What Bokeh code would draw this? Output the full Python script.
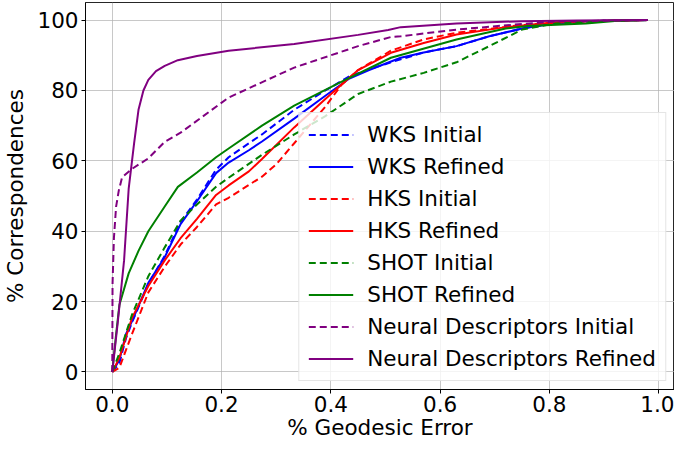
from bokeh.plotting import figure
from bokeh.models import Range1d, FixedTicker, PrintfTickFormatter, Legend, LegendItem
from bokeh.embed import file_html
from bokeh.resources import INLINE

# ---- data ----
wks_init_x = [0, 0.013, 0.025, 0.036, 0.066, 0.096, 0.125, 0.155, 0.19, 0.213, 0.25, 0.274, 0.333, 0.39, 0.434, 0.47, 0.51, 0.57, 0.63, 0.69, 0.75, 0.8, 0.85, 0.9, 0.98]
wks_init_y = [0, 2.5, 9.5, 14, 25, 33, 42.6, 49, 57.5, 61, 65, 67.5, 74.5, 80, 84, 86, 88, 90.8, 92.6, 95.4, 97.6, 98.8, 99.5, 99.8, 100]

wks_ref_x = [0, 0.013, 0.025, 0.036, 0.066, 0.096, 0.125, 0.155, 0.19, 0.213, 0.25, 0.274, 0.333, 0.39, 0.434, 0.47, 0.528, 0.57, 0.63, 0.69, 0.75, 0.8, 0.85, 0.9, 0.98]
wks_ref_y = [0, 3.4, 10.7, 14.4, 25.3, 32.6, 42, 48.5, 56.5, 59.5, 63, 65.5, 72, 78.5, 83.4, 85.8, 89.3, 90.8, 92.6, 95.4, 97.6, 98.8, 99.5, 99.8, 100]

hks_init_x = [0, 0.013, 0.025, 0.036, 0.066, 0.096, 0.125, 0.155, 0.19, 0.213, 0.274, 0.3, 0.333, 0.39, 0.42, 0.45, 0.51, 0.57, 0.63, 0.75, 0.85, 0.98]
hks_init_y = [0, 1.2, 6.2, 10.7, 22.6, 29.9, 36.2, 41.2, 47.6, 49.5, 55.5, 59, 65, 75.4, 81.7, 85.8, 91.3, 94.5, 96.4, 98.6, 99.6, 100]

hks_ref_x = [0, 0.013, 0.036, 0.066, 0.096, 0.125, 0.155, 0.19, 0.213, 0.25, 0.274, 0.333, 0.39, 0.45, 0.51, 0.57, 0.63, 0.72, 0.81, 0.9, 0.98]
hks_ref_y = [0, 4, 15.3, 24.4, 31.7, 38, 43.5, 50.3, 53, 57, 60.5, 69.5, 77.6, 85.8, 90.7, 93.5, 95.9, 98, 99.4, 99.8, 100]

shot_init_x = [0, 0.013, 0.036, 0.066, 0.096, 0.125, 0.155, 0.19, 0.213, 0.274, 0.333, 0.39, 0.45, 0.51, 0.57, 0.63, 0.69, 0.75, 0.81, 0.9, 0.98]
shot_init_y = [0, 5.3, 16.2, 27.2, 35.4, 43, 47.6, 52.6, 55.2, 61.7, 67.5, 72.7, 79, 82.5, 85, 88, 92.6, 97.3, 99, 99.8, 100]

shot_ref_x = [0, 0.007, 0.013, 0.03, 0.048, 0.066, 0.096, 0.12, 0.155, 0.19, 0.213, 0.274, 0.333, 0.42, 0.51, 0.63, 0.72, 0.76, 0.867, 0.925, 0.98]
shot_ref_y = [0, 10.7, 19, 28, 34.4, 40, 47, 52.6, 56.7, 61, 63.5, 70, 75.7, 82.5, 89.3, 94.5, 97.6, 98.3, 99, 99.8, 100]

neural_init_x = [0, 0.0005, 0.003, 0.007, 0.012, 0.018, 0.036, 0.066, 0.096, 0.125, 0.213, 0.333, 0.45, 0.51, 0.528, 0.63, 0.75, 0.81, 0.98]
neural_init_y = [0, 25, 38, 47, 51.6, 55.3, 57.7, 60.7, 65.4, 68, 78, 86.5, 92.6, 95.2, 95.4, 97.3, 98.9, 99.6, 100]

neural_ref_x = [0, 0.01, 0.0216, 0.03, 0.04, 0.048, 0.057, 0.066, 0.08, 0.096, 0.12, 0.155, 0.213, 0.333, 0.45, 0.505, 0.528, 0.63, 0.75, 0.85, 0.98]
neural_ref_y = [0, 14, 31.7, 52, 65, 74.5, 80, 83, 85.5, 87, 88.6, 89.8, 91.3, 93.2, 95.8, 97.2, 98, 99, 99.7, 99.9, 100]

series = [
    ("WKS Initial", wks_init_x, wks_init_y, "blue", "dashed"),
    ("WKS Refined", wks_ref_x, wks_ref_y, "blue", "solid"),
    ("HKS Initial", hks_init_x, hks_init_y, "red", "dashed"),
    ("HKS Refined", hks_ref_x, hks_ref_y, "red", "solid"),
    ("SHOT Initial", shot_init_x, shot_init_y, "green", "dashed"),
    ("SHOT Refined", shot_ref_x, shot_ref_y, "green", "solid"),
    ("Neural Descriptors Initial", neural_init_x, neural_init_y, "purple", "dashed"),
    ("Neural Descriptors Refined", neural_ref_x, neural_ref_y, "purple", "solid"),
]

x_ticks = [0.0, 0.2, 0.4, 0.6, 0.8, 1.0]
y_ticks = [0, 20, 40, 60, 80, 100]

FONT = "DejaVu Sans"
FS = "21.5px"

p = figure(width=674, height=442, output_backend="svg", toolbar_location=None,
           x_range=Range1d(-0.049, 1.029), y_range=Range1d(-5, 105),
           min_border_left=0, min_border_right=0, min_border_top=2, min_border_bottom=0)

p.background_fill_color = "white"
p.border_fill_color = "white"
p.outline_line_color = "black"
p.outline_line_alpha = 0.85
p.outline_line_width = 1

for ax, ticks in ((p.xaxis, x_ticks), (p.yaxis, y_ticks)):
    ax.ticker = FixedTicker(ticks=ticks)
    ax.minor_tick_line_color = None
    ax.major_tick_out = 4
    ax.major_tick_in = 0
    ax.major_tick_line_color = "black"
    ax.axis_line_color = "black"
    ax.axis_line_alpha = 0.85
    ax.major_label_text_font = FONT
    ax.major_label_text_font_size = FS
    ax.major_label_text_color = "black"
    ax.axis_label_text_font = FONT
    ax.axis_label_text_font_size = FS
    ax.axis_label_text_font_style = "normal"
    ax.axis_label_text_color = "black"

p.xaxis.formatter = PrintfTickFormatter(format="%.1f")
p.xaxis.axis_label = "% Geodesic Error"
p.yaxis.axis_label = "% Correspondences"
p.xaxis.major_label_standoff = 2
p.xaxis.axis_label_standoff = 0
p.yaxis.major_label_standoff = 3
p.yaxis.axis_label_standoff = 6

p.grid.grid_line_color = "#b0b0b0"
p.grid.grid_line_alpha = 0.7
p.grid.grid_line_width = 1
p.xgrid.ticker = FixedTicker(ticks=x_ticks)
p.ygrid.ticker = FixedTicker(ticks=y_ticks)

items = []
for label, xs, ys, color, dash in series:
    r = p.line(xs, ys, line_color=color, line_width=2,
               line_dash=("7 4" if dash == "dashed" else "solid"))
    items.append(LegendItem(label=label, renderers=[r]))

legend = Legend(items=items, location="bottom_right",
                label_text_font=FONT, label_text_font_size=FS,
                label_text_color="black",
                glyph_width=45, glyph_height=25, label_height=25,
                label_standoff=14, spacing=7, padding=9, margin=8,
                border_line_color="#cccccc", border_line_width=1,
                background_fill_color="white", background_fill_alpha=0.8)
p.add_layout(legend)

open("out.html", "w").write(file_html(p, INLINE))
